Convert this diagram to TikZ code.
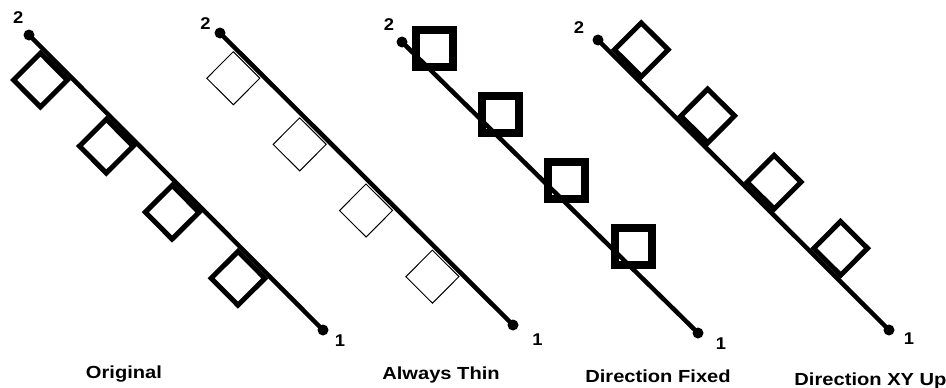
\documentclass[tikz,border=0pt]{standalone}
\usepackage{fontspec}
\setmainfont{Liberation Sans}
\begin{document}
\begin{tikzpicture}[x=1pt,y=-1pt,
  ln/.style={line width=4.5pt},
  dot/.style={circle,fill=black,inner sep=0pt,minimum size=11pt},
  sqthick/.style={line width=5pt},
  sqthin/.style={line width=1pt},
  sqfixed/.style={line width=8pt},
  num/.style={font=\bfseries\fontsize{17}{17}\selectfont,inner sep=0pt,xscale=1.08},
  captext/.style={font=\bfseries\fontsize{17.5}{18}\selectfont,inner sep=0pt,anchor=base,xscale=1.15}]
\useasboundingbox (0,0) rectangle (946,388);

% ---------- Original ----------
\node[dot] (a2) at (29,35) {};
\node[dot] (a1) at (323,330) {};
\draw[ln] (a2.center) -- (a1.center);
\begin{scope}[shift={(29,35)},rotate=-45.1]
  \foreach \u in {21,114.3,207.6,300.9}
    \draw[sqthick] (\u,4.7) rectangle ++(38,38);
\end{scope}
\node[num] (a2l) at (18.3,18) {2};
\node[num] (a1l) at (340,340.5) {1};
\node[captext] (acap) at (124,378) {Original};

% ---------- Always Thin ----------
\node[dot] (b2) at (220,33) {};
\node[dot] (b1) at (513,325) {};
\draw[ln] (b2.center) -- (b1.center);
\begin{scope}[shift={(220,33)},rotate=-44.9]
  \foreach \u in {22.6,116.3,210,303.7}
    \draw[sqthin] (\u,3.9) rectangle ++(37.5,37.5);
\end{scope}
\node[num] (b2l) at (205.5,23.5) {2};
\node[num] (b1l) at (537.5,340) {1};
\node[captext] (bcap) at (441,379) {Always Thin};

% ---------- Direction Fixed ----------
\node[dot] (c2) at (402,42) {};
\node[dot] (c1) at (698,333) {};
\draw[ln] (c2.center) -- (c1.center);
\foreach \cx/\cy in {434/48,500.4/114.2,566.8/180.4,633.2/246.6}
  \draw[sqfixed] (\cx-18.5,\cy-18.5) rectangle ++(37,37);
\node[num] (c2l) at (389,24.5) {2};
\node[num] (c1l) at (721,343.5) {1};
\node[captext] (ccap) at (658,382) {Direction Fixed};

% ---------- Direction XY Up ----------
\node[dot] (d2) at (598,40) {};
\node[dot] (d1) at (889,330) {};
\draw[ln] (d2.center) -- (d1.center);
\begin{scope}[shift={(598,40)},rotate=-44.9]
  \foreach \u in {18.5,112.3,206.1,299.9}
    \draw[sqthick] (\u,-4.7) rectangle ++(38,-38);
\end{scope}
\node[num] (d2l) at (579,27.5) {2};
\node[num] (d1l) at (909,339) {1};
\node[captext] (dcap) at (870.5,385) {Direction XY Up};
\end{tikzpicture}
\end{document}
